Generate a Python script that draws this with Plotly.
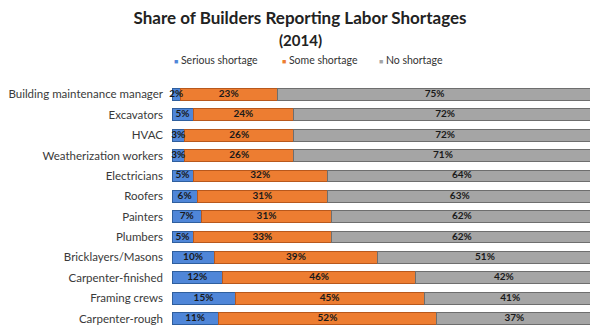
import plotly.graph_objects as go

# Survey results, share of builders (%) per trade
trades = [
    "Building maintenance manager", "Excavators", "HVAC", "Weatherization workers",
    "Electricians", "Roofers", "Painters", "Plumbers", "Bricklayers/Masons",
    "Carpenter-finished", "Framing crews", "Carpenter-rough",
]
serious = [2, 5, 3, 3, 5, 6, 7, 5, 10, 12, 15, 11]
some = [23, 24, 26, 26, 32, 31, 31, 33, 39, 46, 45, 52]
none_ = [75, 72, 72, 71, 64, 63, 62, 62, 51, 42, 41, 37]

series_names = ["Serious shortage", "Some shortage", "No shortage"]
series_vals = [serious, some, none_]
fills = ["#4f86d8", "#ed7d31", "#a5a5a5"]
edges = ["#2f5f9e", "#b8581c", "#6e6e6e"]

W, H = 590, 331
L, T = 172, 82
plot_w, plot_h = W - L, H - T

def px_x(px):
    return (px - L) / plot_w

def px_y(py):
    return (H - py) / plot_h

fig = go.Figure()
offsets = [0] * len(trades)
for name, vals, color, edge in zip(series_names, series_vals, fills, edges):
    fig.add_trace(go.Bar(
        y=trades, x=vals, name=name, orientation="h",
        marker=dict(color=color, line=dict(color=edge, width=1)),
        showlegend=False, hoverinfo="skip",
    ))
    # value labels centred on each stacked segment (not shrunk on narrow ones)
    centers = [o + v / 2 for o, v in zip(offsets, vals)]
    fig.add_trace(go.Scatter(
        y=trades, x=centers, mode="text",
        text=[f"<b>{v}%</b>" for v in vals], textposition="middle center",
        textfont=dict(family="Lato", size=10, color="#1a1a1a"),
        showlegend=False, hoverinfo="skip", cliponaxis=False,
    ))
    offsets = [o + v for o, v in zip(offsets, vals)]

# compact legend row: small colored square followed by the series name
legend_px = [172, 280, 377]
for name, color, lx in zip(series_names, fills, legend_px):
    fig.add_annotation(
        xref="paper", yref="paper", x=px_x(lx), y=px_y(60),
        xanchor="left", yanchor="middle", showarrow=False,
        text=f"<span style='color:{color};font-size:7px'>■</span> {name}",
        font=dict(family="Lato", size=10.5, color="#333"),
    )

fig.add_annotation(
    xref="paper", yref="paper", x=px_x(300), y=px_y(40),
    xanchor="center", yanchor="middle", showarrow=False,
    text="<b>(2014)</b>", font=dict(family="Lato", size=15, color="#222"),
)

fig.update_layout(
    width=W, height=H,
    barmode="stack", bargap=0.42,
    paper_bgcolor="white", plot_bgcolor="white",
    margin=dict(l=L, r=0, t=T, b=0),
    title=dict(
        text="<b>Share of Builders Reporting Labor Shortages</b>",
        x=300 / W, xanchor="center", xref="container",
        y=1 - 18 / H, yanchor="middle", yref="container",
        font=dict(family="Lato", size=17, color="#222"),
    ),
    xaxis=dict(range=[0, 99.5], visible=False),
    yaxis=dict(autorange="reversed", showgrid=False, zeroline=False,
               ticks="", ticklabelstandoff=8,
               tickfont=dict(family="Lato", size=11.5, color="#3a3a3a")),
)

fig.write_html("out.html")
